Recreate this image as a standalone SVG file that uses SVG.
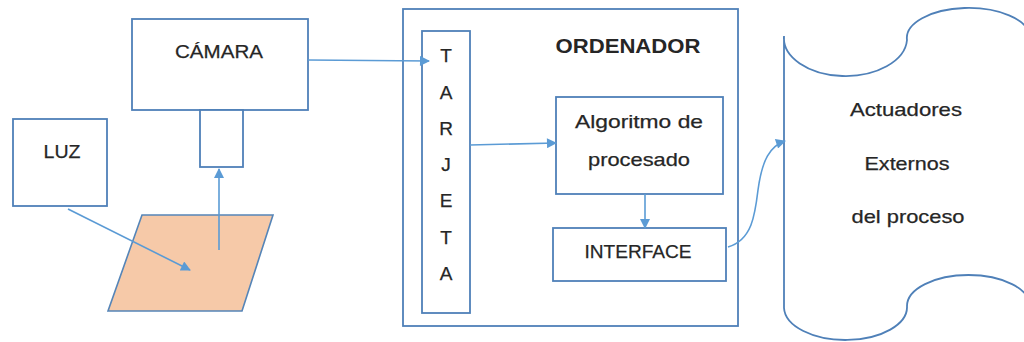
<svg xmlns="http://www.w3.org/2000/svg" width="1024" height="342" viewBox="0 0 1024 342">
  <style>
    .box { fill: #ffffff; stroke: #4f80b8; stroke-width: 1.8; }
    .wire { fill: none; stroke: #5b9bd5; stroke-width: 1.6; }
    .lbl { font-family: "Liberation Sans", Arial, sans-serif; font-size: 19px; fill: #262626; stroke: #262626; stroke-width: 0.25; text-anchor: middle; }
    .bold { font-weight: bold; font-size: 20px; stroke-width: 0; }
  </style>
  <defs>
    <marker id="arrow" viewBox="0 0 10 10" refX="9" refY="5" markerWidth="11" markerHeight="10" markerUnits="userSpaceOnUse" orient="auto">
      <path d="M0,0 L10,5 L0,10 Z" fill="#5b9bd5"/>
    </marker>
  </defs>

  <rect width="1024" height="342" fill="#ffffff"/>

  <!-- Camera body and lens -->
  <g id="camara">
    <rect class="box" x="132" y="19" width="176" height="91"/>
    <text class="lbl" x="219" y="58" textLength="88" lengthAdjust="spacingAndGlyphs">CÁMARA</text>
  </g>
  <g id="lente">
    <rect class="box" x="200" y="110" width="43" height="57"/>
  </g>

  <!-- Light source -->
  <g id="luz">
    <rect class="box" x="13" y="119" width="94" height="87"/>
    <text class="lbl" x="62" y="158" textLength="37" lengthAdjust="spacingAndGlyphs">LUZ</text>
  </g>

  <!-- Object under inspection -->
  <g id="objeto">
    <polygon points="142,215 273,215 242,311 108,311" fill="#f6c9a8" stroke="#5585b8" stroke-width="1.6"/>
  </g>

  <!-- Computer -->
  <g id="ordenador">
    <rect class="box" x="403" y="9" width="335" height="317"/>
    <text class="lbl bold" x="628" y="53" textLength="145" lengthAdjust="spacingAndGlyphs">ORDENADOR</text>
  </g>

  <g id="tarjeta">
    <rect class="box" x="422" y="31" width="48" height="282"/>
    <text class="lbl" x="446" y="62">T</text>
    <text class="lbl" x="446" y="99">A</text>
    <text class="lbl" x="446" y="135">R</text>
    <text class="lbl" x="446" y="171">J</text>
    <text class="lbl" x="446" y="207">E</text>
    <text class="lbl" x="446" y="244">T</text>
    <text class="lbl" x="446" y="280">A</text>
  </g>

  <g id="algoritmo">
    <rect class="box" x="556" y="97" width="167" height="97"/>
    <text class="lbl" x="639" y="128" textLength="128" lengthAdjust="spacingAndGlyphs">Algoritmo de</text>
    <text class="lbl" x="639" y="166" textLength="102" lengthAdjust="spacingAndGlyphs">procesado</text>
  </g>

  <g id="interface">
    <rect class="box" x="553" y="228" width="173" height="53"/>
    <text class="lbl" x="638" y="258" textLength="107" lengthAdjust="spacingAndGlyphs">INTERFACE</text>
  </g>

  <!-- External actuators (punched-tape shape, runs past the right edge) -->
  <g id="actuadores">
    <path class="box" d="M784,36 A61.5,38 0 0 0 907,40 A61.5,30 0 0 1 1030,36 L1030,306 A61.5,31 0 0 0 907,306 A61.5,33 0 0 1 784,308 Z"/>
    <text class="lbl" x="906" y="116" textLength="112" lengthAdjust="spacingAndGlyphs">Actuadores</text>
    <text class="lbl" x="907" y="170" textLength="85" lengthAdjust="spacingAndGlyphs">Externos</text>
    <text class="lbl" x="908" y="223" textLength="113" lengthAdjust="spacingAndGlyphs">del proceso</text>
  </g>

  <!-- Connectors -->
  <g id="connectors">
    <line class="wire" x1="68" y1="209" x2="190" y2="270" marker-end="url(#arrow)"/>
    <line class="wire" x1="219" y1="250" x2="219" y2="169" marker-end="url(#arrow)"/>
    <path class="wire" d="M308,60 L429,61" marker-end="url(#arrow)"/>
    <line class="wire" x1="470" y1="145" x2="556" y2="143" marker-end="url(#arrow)"/>
    <line class="wire" x1="645" y1="194" x2="645" y2="228" marker-end="url(#arrow)"/>
    <path class="wire" d="M728,247 C752,240 755,215 758,190 C762,160 770,146 785,141" marker-end="url(#arrow)"/>
  </g>
</svg>
